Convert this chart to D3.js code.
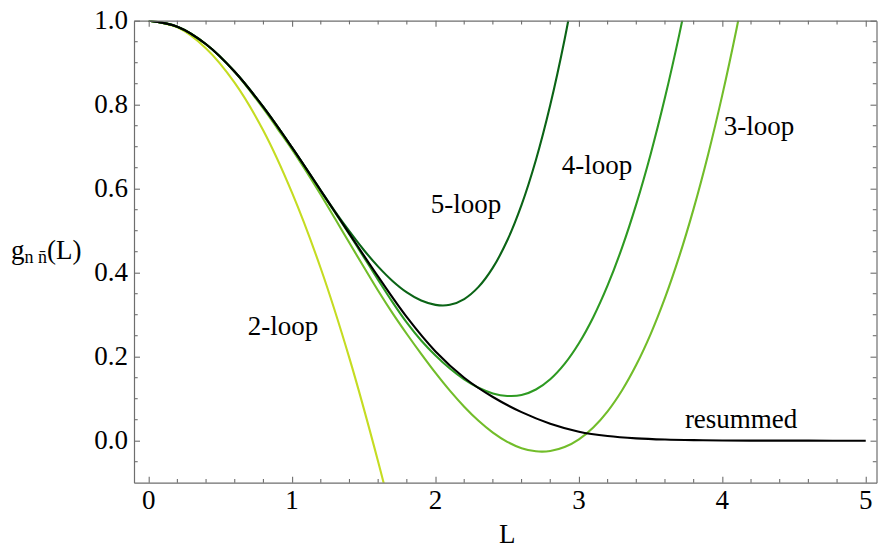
<!DOCTYPE html>
<html>
<head>
<meta charset="utf-8">
<script src="https://cdn.jsdelivr.net/npm/d3@7"></script>
<style>
  html, body { margin: 0; padding: 0; background: #fff; }
  svg { display: block; }
  text { font-family: "Liberation Serif", "DejaVu Serif", serif; fill: #000; }
</style>
</head>
<body>
<svg id="chart" width="878" height="548"></svg>
<script>
// Sample points of g_{n n̄}(L): fixed-order truncations and the resummed curve
const L2loop = [0, 0.2, 0.4, 0.6, 0.8, 1.0, 1.2, 1.4, 1.6, 1.7];
const g2loop = [1, 0.984, 0.934, 0.852, 0.738, 0.59, 0.41, 0.196, -0.05, -0.185];

const L3loop = [0, 0.2, 0.4, 0.6, 0.8, 0.9, 1.0, 1.1, 1.2, 1.3, 1.4, 1.5, 1.6, 1.7, 1.8, 1.9, 2.0, 2.1, 2.2, 2.3, 2.4, 2.5, 2.6, 2.7, 2.8, 2.9, 3.0, 3.1, 3.2, 3.3, 3.4, 3.5, 3.6, 3.7, 3.8, 3.9, 4.0, 4.1, 4.2];
const g3loop = [1, 0.9857, 0.944, 0.878, 0.7905, 0.742, 0.693, 0.6405, 0.5855, 0.5285, 0.4705, 0.4135, 0.357, 0.3037, 0.254, 0.2067, 0.1613, 0.1191, 0.0809, 0.0473, 0.0192, -0.0027, -0.0178, -0.0253, -0.0246, -0.0152, 0.0032, 0.0315, 0.07, 0.1196, 0.1807, 0.2539, 0.3399, 0.4393, 0.5526, 0.6804, 0.8234, 0.9822, 1.1573];

const L4loop = [0, 0.2, 0.4, 0.6, 0.8, 1.0, 1.2, 1.3, 1.4, 1.5, 1.6, 1.7, 1.8, 1.9, 2.0, 2.1, 2.2, 2.3, 2.4, 2.5, 2.6, 2.7, 2.8, 2.9, 3.0, 3.1, 3.2, 3.3, 3.4, 3.5, 3.6, 3.7, 3.8];
const g4loop = [1, 0.9857, 0.944, 0.8785, 0.7942, 0.6975, 0.5945, 0.543, 0.491, 0.437, 0.383, 0.33, 0.281, 0.2385, 0.2028, 0.1718, 0.1459, 0.126, 0.1126, 0.1066, 0.1086, 0.1218, 0.1463, 0.1829, 0.232, 0.294, 0.3696, 0.4591, 0.5632, 0.6822, 0.8169, 0.9675, 1.1347];

const L5loop = [0, 0.2, 0.4, 0.6, 0.8, 1.0, 1.2, 1.3, 1.4, 1.5, 1.6, 1.7, 1.8, 1.9, 2.0, 2.1, 2.2, 2.3, 2.4, 2.5, 2.6, 2.7, 2.8, 2.9, 3.0];
const g5loop = [1, 0.9857, 0.944, 0.8785, 0.7943, 0.698, 0.5958, 0.5455, 0.4982, 0.4541, 0.4144, 0.3803, 0.353, 0.3336, 0.3234, 0.3236, 0.3373, 0.3662, 0.412, 0.4766, 0.5615, 0.6684, 0.7992, 0.9553, 1.1386];

const Lresum = [0, 0.2, 0.4, 0.6, 0.8, 1.0, 1.2, 1.4, 1.6, 1.8, 2.0, 2.2, 2.4, 2.6, 2.8, 3.0, 3.2, 3.4, 3.6, 3.8, 4.0, 4.3, 4.6, 5.0];
const gresum = [1, 0.9857, 0.944, 0.8785, 0.7942, 0.6977, 0.5956, 0.4925, 0.3905, 0.294, 0.2125, 0.15, 0.104, 0.068, 0.0405, 0.0215, 0.011, 0.0055, 0.0027, 0.0013, 0.0006, 0.0002, 0.0001, 0];

const xTicks = [0, 1, 2, 3, 4, 5];
const yTicks = [0.0, 0.2, 0.4, 0.6, 0.8, 1.0];

const series = [
  { name: "2-loop",   L: L2loop, g: g2loop, color: "#c5dc22" },
  { name: "3-loop",   L: L3loop, g: g3loop, color: "#72bd2a" },
  { name: "4-loop",   L: L4loop, g: g4loop, color: "#2e9a22" },
  { name: "5-loop",   L: L5loop, g: g5loop, color: "#0b6416" },
  { name: "resummed", L: Lresum, g: gresum, color: "#000000" }
];

// Curve labels, anchored in data coordinates
const labels = [
  { text: "2-loop",   L: 0.937, g: 0.252 },
  { text: "3-loop",   L: 4.256, g: 0.727 },
  { text: "4-loop",   L: 3.126, g: 0.635 },
  { text: "5-loop",   L: 2.213, g: 0.542 },
  { text: "resummed", L: 4.131, g: 0.030 }
];

const svg = d3.select("#chart");
const frame = { left: 134, right: 876.5, top: 20.7, bottom: 482.7 };

const x = d3.scaleLinear().domain([-0.1025, 5.075]).range([frame.left, frame.right]);
const y = d3.scaleLinear().domain([-0.1, 1.0]).range([frame.bottom, frame.top]);

const frameColor = "#6e6e6e";
const fontSize = 27;

svg.append("defs").append("clipPath").attr("id", "plot-clip")
  .append("rect")
  .attr("x", frame.left).attr("y", frame.top)
  .attr("width", frame.right - frame.left).attr("height", frame.bottom - frame.top);

// Curves
const line = d3.line().x(d => x(d[0])).y(d => y(d[1])).curve(d3.curveCatmullRom.alpha(0.5));
const curves = svg.append("g").attr("clip-path", "url(#plot-clip)");
series.forEach(s => {
  curves.append("path")
    .datum(s.L.map((v, i) => [v, s.g[i]]))
    .attr("d", line)
    .attr("fill", "none")
    .attr("stroke", s.color)
    .attr("stroke-width", 2.1)
    .attr("stroke-linejoin", "round")
    .attr("stroke-linecap", "butt");
});

// Frame with inward ticks on all four sides
const axes = svg.append("g");
const xMajor = xTicks;
const xMinor = d3.range(0, 5.0001, 0.2).filter(v => Math.abs(v - Math.round(v)) > 1e-6);
const yMajor = yTicks;
const yMinor = d3.range(-0.05, 1.0001, 0.05).filter(v => Math.abs(v * 5 - Math.round(v * 5)) > 1e-6);

const bottomAxis = d3.axisBottom(x).tickValues(xMajor).tickSizeInner(-6).tickSizeOuter(0).tickFormat("");
const topAxis = d3.axisTop(x).tickValues(xMajor).tickSizeInner(-6).tickSizeOuter(0).tickFormat("");
const leftAxis = d3.axisLeft(y).tickValues(yMajor).tickSizeInner(-6).tickSizeOuter(0).tickFormat("");
const rightAxis = d3.axisRight(y).tickValues(yMajor).tickSizeInner(-6).tickSizeOuter(0).tickFormat("");

function styleAxis(g) {
  g.select(".domain").attr("stroke", frameColor).attr("stroke-width", 1.2);
  g.selectAll(".tick line").attr("stroke", frameColor).attr("stroke-width", 1.1);
}

axes.append("g").attr("transform", `translate(0,${frame.bottom})`).call(bottomAxis).call(styleAxis);
axes.append("g").attr("transform", `translate(0,${frame.top})`).call(topAxis).call(styleAxis);
axes.append("g").attr("transform", `translate(${frame.left},0)`).call(leftAxis).call(styleAxis);
axes.append("g").attr("transform", `translate(${frame.right},0)`).call(rightAxis).call(styleAxis);

// Minor ticks
const minor = axes.append("g").attr("stroke", frameColor).attr("stroke-width", 1.1);
xMinor.forEach(v => {
  minor.append("line").attr("x1", x(v)).attr("x2", x(v)).attr("y1", frame.bottom).attr("y2", frame.bottom - 3.7);
  minor.append("line").attr("x1", x(v)).attr("x2", x(v)).attr("y1", frame.top).attr("y2", frame.top + 3.7);
});
yMinor.forEach(v => {
  minor.append("line").attr("y1", y(v)).attr("y2", y(v)).attr("x1", frame.left).attr("x2", frame.left + 3.7);
  minor.append("line").attr("y1", y(v)).attr("y2", y(v)).attr("x1", frame.right).attr("x2", frame.right - 3.7);
});

// Tick labels
const tickLabels = svg.append("g").attr("font-size", fontSize);
xMajor.forEach(v => {
  tickLabels.append("text").attr("x", x(v)).attr("y", 509)
    .attr("text-anchor", "middle").text(d3.format("d")(v));
});
yMajor.forEach(v => {
  tickLabels.append("text").attr("x", 128).attr("y", y(v) + 8)
    .attr("text-anchor", "end").text(d3.format(".1f")(v));
});

// Axis labels
svg.append("text").attr("x", x(2.5)).attr("y", 543).attr("text-anchor", "middle")
  .attr("font-size", fontSize).text("L");

const yLab = svg.append("text").attr("x", 11).attr("y", 259).attr("font-size", fontSize);
yLab.append("tspan").text("g");
yLab.append("tspan").attr("font-size", 18).attr("dy", 4).text("n n\u0304");
yLab.append("tspan").attr("dy", -4).text("(L)");

// Curve labels
svg.append("g").attr("font-size", fontSize)
  .selectAll("text").data(labels).join("text")
  .attr("x", d => x(d.L)).attr("y", d => y(d.g))
  .attr("text-anchor", "middle")
  .text(d => d.text);
</script>
</body>
</html>
